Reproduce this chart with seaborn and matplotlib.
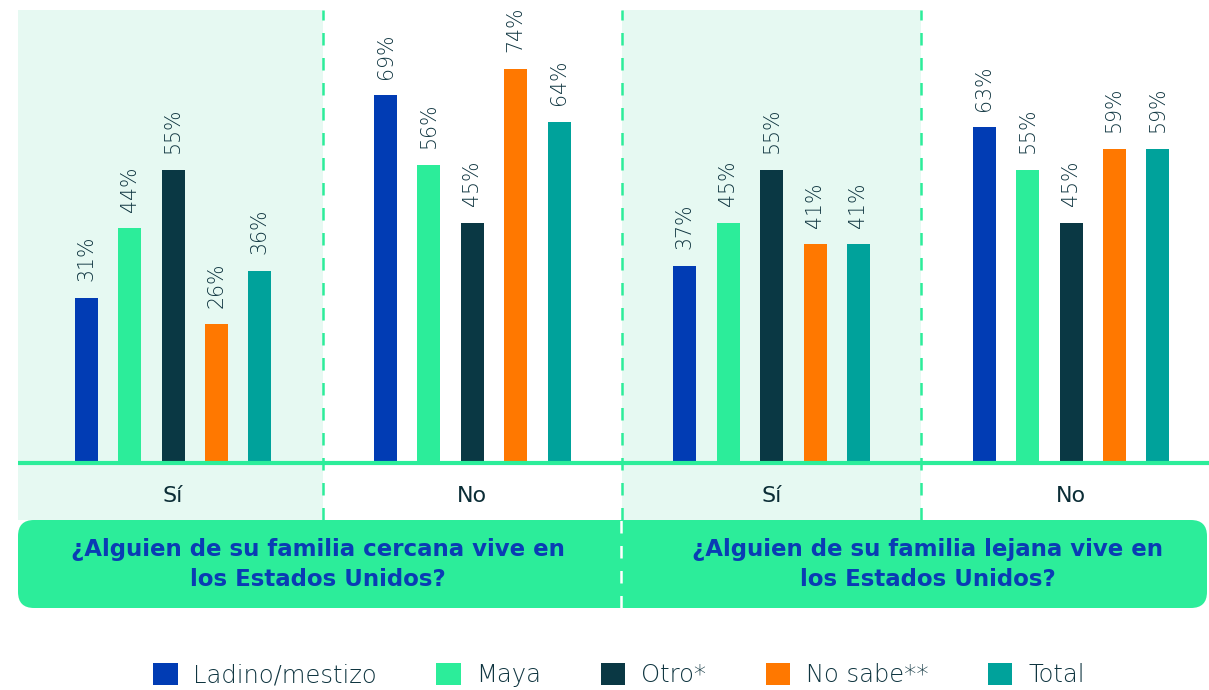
import numpy as np
import pandas as pd
import matplotlib.pyplot as plt
import seaborn as sns
from matplotlib.patches import FancyBboxPatch, Patch
from matplotlib.lines import Line2D

# data
grupos = ["cercana_si", "cercana_no", "lejana_si", "lejana_no"]
grupo_labels = ["Sí", "No", "Sí", "No"]
etnias = ["Ladino/mestizo", "Maya", "Otro*", "No sabe**", "Total"]
ladino = [31, 69, 37, 63]
maya = [44, 56, 45, 55]
otro = [55, 45, 55, 45]
no_sabe = [26, 74, 41, 59]
total = [36, 64, 41, 59]
preguntas = ["¿Alguien de su familia cercana vive en\nlos Estados Unidos?",
             "¿Alguien de su familia lejana vive en\nlos Estados Unidos?"]

colores = ["#013cb4", "#2ced9a", "#0a3844", "#ff7800", "#00a29b"]
verde = "#2ced9a"
sombra = "#e6f9f2"
texto = "#0f3540"

df = pd.DataFrame({
    "grupo": np.repeat(grupos, len(etnias)),
    "etnia": etnias * len(grupos),
    "valor": np.array([ladino, maya, otro, no_sabe, total]).T.ravel(),
})

W, H = 1209, 690
fig = plt.figure(figsize=(W / 100, H / 100), dpi=100)
sns.set_style("white")
plt.rcParams["font.family"] = ["DejaVu Sans"]

ax = fig.add_axes([18 / W, 1 - 520 / H, (W - 18) / W, (520 - 10) / H])
sns.barplot(data=df, x="grupo", y="valor", hue="etnia", order=grupos,
            hue_order=etnias, palette=colores, saturation=1, width=0.725,
            gap=0.47, errorbar=None, linewidth=0, legend=False, ax=ax,
            zorder=3)

px_per_unit = 5.33
ax.set_ylim(-(520 - 463) / px_per_unit, (463 - 10) / px_per_unit)
ax.set_xlim(-0.518, 3.461)

ax.axvspan(-0.518, 0.5, color=sombra, zorder=0, lw=0)
ax.axvspan(1.5, 2.5, color=sombra, zorder=0, lw=0)
for xv in [0.5, 1.5, 2.5]:
    ax.axvline(xv, color=verde, lw=1.8, linestyle=(0, (5, 5)), zorder=1)
ax.axhline(0, color=verde, lw=3, zorder=4)

for cont in ax.containers:
    ax.bar_label(cont, fmt="{:.0f}%", rotation=90, padding=12,
                 fontsize=14.8, color=texto, fontweight="light")

for i, lab in enumerate(grupo_labels):
    ax.text(i, -(496 - 463) / px_per_unit, lab, ha="center", va="center",
            fontsize=16, color="#0b2d36")

ax.set_axis_off()

# banner with the two questions
banner = FancyBboxPatch((0.18, 0.82), 12.07 - 0.18, 1.70 - 0.82,
                        boxstyle="round,pad=0,rounding_size=0.16",
                        transform=fig.dpi_scale_trans, facecolor=verde,
                        edgecolor="none")
fig.add_artist(banner)
fig.add_artist(Line2D([621 / W, 621 / W], [1 - 608 / H, 1 - 520 / H],
                      transform=fig.transFigure, color="white", lw=1.8,
                      linestyle=(0, (5, 5))))
for xc, q in zip([318, 928], preguntas):
    fig.text(xc / W, 1 - 564.5 / H, q, ha="center", va="center",
             fontsize=16.5, fontweight="bold", color="#0a3cb4",
             linespacing=1.42)

handles = [Patch(facecolor=c, edgecolor="none") for c in colores]
fig.legend(handles, etnias, loc="center", bbox_to_anchor=(619 / W, 1 - 675 / H),
           ncol=5, frameon=False, handlelength=1.0,
           handleheight=1.0, handletextpad=0.65, columnspacing=2.45,
           labelcolor=texto, prop={"size": 17.5, "weight": "light"})

fig.savefig("out.png", dpi=100)
